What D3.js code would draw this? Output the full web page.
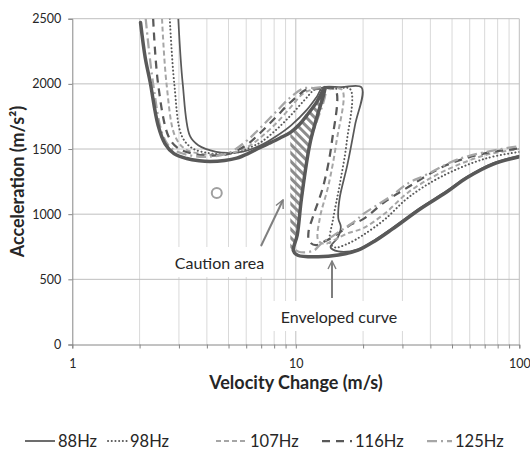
<!DOCTYPE html>
<html>
<head>
<meta charset="utf-8">
<script src="https://cdn.jsdelivr.net/npm/d3@7"></script>
<style>
  body { margin: 0; background: #fff; }
  svg { display: block; }
  text { font-family: Lato, "Open Sans", sans-serif; fill: #262626; }
</style>
</head>
<body>
<svg id="chart" width="530" height="450"></svg>
<script>
// ---- data: velocity change (m/s) vs acceleration (m/s²) ----
const xTickValues = [1, 10, 100];
const yTickValues = [0, 500, 1000, 1500, 2000, 2500];
const seriesNames = ["88Hz", "98Hz", "107Hz", "116Hz", "125Hz"];

const hz88 = [[2.98,2500],[3.12,2000],[3.36,1600],[3.66,1529],[4.4,1478],[5,1470],[5.8,1480],[7,1530],[8.2,1600],[9.5,1680],[11.2,1800],[12.4,1900],[13.2,1972],[16,1974],[19.7,1972],[18.4,1682],[17.0,1376],[15.7,1120],[15.5,967],[15.9,903],[15.4,820],[14.3,748],[15.5,714],[19,730],[22.6,802],[27,892],[36,1048],[47.3,1178],[58.2,1285],[76.5,1392],[100,1450]];
const hz98 = [[2.73,2500],[2.86,2000],[3.09,1600],[3.45,1505],[4.1,1468],[4.8,1462],[5.6,1478],[6.3,1515],[7,1554],[8.2,1650],[9.5,1759],[11,1880],[12.3,1960],[15,1962],[17.5,1960],[16.9,1554],[15.7,1222],[14.7,967],[14.2,780],[15,745],[17,772],[20,840],[25,960],[32,1130],[45,1290],[70,1425],[100,1478]];
const hz107 = [[2.52,2500],[2.64,2000],[2.88,1600],[3.2,1500],[3.8,1462],[4.5,1458],[5.3,1475],[6.2,1525],[7,1592],[8.2,1700],[9.5,1822],[10.7,1920],[11.8,1955],[14,1958],[16.1,1955],[15.2,1554],[14.0,1222],[12.8,967],[12.6,800],[13.5,772],[15,805],[17,852],[20,892],[25,1005],[32,1170],[45,1322],[70,1452],[100,1500]];
const hz116 = [[2.30,2500],[2.42,2000],[2.69,1600],[2.95,1510],[3.5,1462],[4.2,1450],[5,1462],[6,1530],[7,1631],[8.2,1750],[9.5,1861],[11.3,1960],[13,1963],[15,1960],[14.5,1554],[13.3,1222],[12.0,992],[11.4,864],[11.5,790],[12.3,762],[13.5,792],[15.5,852],[17.7,922],[20,962],[25,1094],[32,1210],[47,1375],[70,1467],[100,1505]];
const hz125 = [[2.13,2500],[2.30,2000],[2.55,1600],[2.8,1500],[3.4,1450],[4,1440],[5,1470],[6,1560],[7,1669],[8.2,1790],[9.5,1899],[10.8,1965],[12,1968],[13.5,1965],[11.6,1551],[10.6,1120],[10.15,840],[9.85,740],[10.3,712],[12,720],[13,775],[15,845],[18.5,950],[20,1000],[26.5,1135],[32,1240],[37,1290],[54,1425],[90,1510],[100,1520]];
const seriesData = [hz88, hz98, hz107, hz116, hz125];

const envelope = [[2.02,2470],[2.12,2200],[2.23,2014],[2.42,1682],[2.6,1540],[2.85,1465],[3.25,1427],[3.7,1410],[4.13,1405],[4.8,1412],[5.44,1430],[6.2,1470],[6.9,1510],[7.6,1544],[8.5,1585],[9.47,1628],[10.4,1690],[11.2,1758],[12.4,1860],[13.5,1972],[11.6,1551],[10.6,1120],[10.15,840],[9.75,720],[10.2,685],[12.6,673],[15.5,686],[19,724],[22.6,795],[27,885],[36,1040],[47.3,1170],[58.2,1280],[76.5,1385],[100,1440]];
const cautionArea = [[9.45,1626],[10.4,1690],[11.2,1758],[12.4,1860],[13.5,1972],[11.6,1551],[10.6,1120],[10.15,840],[9.75,720],[9.45,722]];
const markerPoint = [4.43, 1163];

const annotations = [
  { text: "Caution area", box: [167, 247, 105, 30], from: [261, 246], to: [283, 200] },
  { text: "Enveloped curve", box: [272, 301, 134, 30], from: [332, 298], to: [332, 261] }
];

// ---- layout ----
const svg = d3.select("#chart");
const plot = { left: 72.3, right: 519.3, top: 18.7, bottom: 344.5 };

const x = d3.scaleLog().domain([1, 100]).range([plot.left, plot.right]);
const y = d3.scaleLinear().domain([0, 2500]).range([plot.bottom, plot.top]);

const minorX = [];
for (let d = 1; d <= 10; d *= 10) for (let k = 2; k <= 9; k++) minorX.push(d * k);

// gridlines
const grid = svg.append("g");
grid.selectAll(".vminor").data(minorX).join("line")
  .attr("x1", d => x(d)).attr("x2", d => x(d))
  .attr("y1", plot.top).attr("y2", plot.bottom)
  .attr("stroke", "#d9d9d9").attr("stroke-width", 1);
grid.selectAll(".vmajor").data([10, 100]).join("line")
  .attr("x1", d => x(d)).attr("x2", d => x(d))
  .attr("y1", plot.top).attr("y2", plot.bottom)
  .attr("stroke", "#bfbfbf").attr("stroke-width", 1);
grid.selectAll(".h").data(yTickValues.filter(v => v > 0)).join("line")
  .attr("x1", plot.left).attr("x2", plot.right)
  .attr("y1", d => y(d)).attr("y2", d => y(d))
  .attr("stroke", "#bfbfbf").attr("stroke-width", 1);

// axes
const yAxis = svg.append("g").attr("transform", `translate(${plot.left},0)`)
  .call(d3.axisLeft(y).tickValues(yTickValues).tickSize(4).tickPadding(7).tickFormat(d3.format("d")));
const xAxis = svg.append("g").attr("transform", `translate(0,${plot.bottom})`)
  .call(d3.axisBottom(x).tickValues(minorX.concat(xTickValues)).tickSize(4).tickPadding(11)
    .tickFormat(d => xTickValues.includes(d) ? String(d) : ""));
[yAxis, xAxis].forEach(a => {
  a.select(".domain").attr("stroke", "#868686");
  a.selectAll(".tick line").attr("stroke", "#868686");
  a.selectAll(".tick text").style("font-size", "12.5px").attr("fill", "#262626");
});

// hatch pattern for the caution area
const defs = svg.append("defs");
defs.append("pattern").attr("id", "hatch").attr("patternUnits", "userSpaceOnUse")
  .attr("width", 6).attr("height", 6).attr("patternTransform", "rotate(-45)")
  .append("rect").attr("width", 3).attr("height", 6).attr("fill", "#8c8c8c");
defs.append("clipPath").attr("id", "plotClip").append("rect")
  .attr("x", plot.left).attr("y", plot.top)
  .attr("width", plot.right - plot.left).attr("height", plot.bottom - plot.top);
defs.append("marker").attr("id", "arrow").attr("viewBox", "0 0 10 10")
  .attr("refX", 9).attr("refY", 5).attr("markerWidth", 5).attr("markerHeight", 5)
  .attr("orient", "auto-start-reverse").attr("markerUnits", "strokeWidth")
  .append("path").attr("d", "M1,1 L9,5 L1,9").attr("fill", "none")
  .attr("stroke", "#7f7f7f").attr("stroke-width", 1.4);

const layer = svg.append("g").attr("clip-path", "url(#plotClip)");

layer.append("path")
  .attr("d", d3.line().x(d => x(d[0])).y(d => y(d[1]))(cautionArea) + "Z")
  .attr("fill", "url(#hatch)");

const line = d3.line().x(d => x(d[0])).y(d => y(d[1])).curve(d3.curveCatmullRom.alpha(0.5));

const styles = [
  { color: "#595959", width: 1.75, dash: null, cap: "butt" },
  { color: "#595959", width: 2, dash: "0.1 3.6", cap: "round" },
  { color: "#a6a6a6", width: 2, dash: "5 3", cap: "butt" },
  { color: "#595959", width: 2.25, dash: "8 6", cap: "butt" },
  { color: "#a6a6a6", width: 2.25, dash: "10 4 2 4", cap: "butt" }
];

seriesData.forEach((data, i) => {
  layer.append("path").attr("d", line(data))
    .attr("fill", "none").attr("stroke", styles[i].color)
    .attr("stroke-width", styles[i].width)
    .attr("stroke-dasharray", styles[i].dash)
    .attr("stroke-linecap", styles[i].cap)
    .attr("stroke-linejoin", "round");
});

layer.append("path").attr("d", line(envelope))
  .attr("fill", "none").attr("stroke", "#595959")
  .attr("stroke-width", 3.5).attr("stroke-linejoin", "round").attr("stroke-linecap", "round");

// marker point
layer.append("circle").attr("cx", x(markerPoint[0])).attr("cy", y(markerPoint[1]))
  .attr("r", 5).attr("fill", "none").attr("stroke", "#a0a0a0").attr("stroke-width", 2);

// annotation callouts
annotations.forEach(a => {
  svg.append("rect").attr("x", a.box[0]).attr("y", a.box[1])
    .attr("width", a.box[2]).attr("height", a.box[3]).attr("fill", "#fff");
  svg.append("text").attr("x", a.box[0] + a.box[2] / 2).attr("y", a.box[1] + a.box[3] / 2)
    .attr("text-anchor", "middle").attr("dominant-baseline", "central")
    .style("font-size", "16px").text(a.text);
  svg.append("line").attr("x1", a.from[0]).attr("y1", a.from[1])
    .attr("x2", a.to[0]).attr("y2", a.to[1])
    .attr("stroke", "#7f7f7f").attr("stroke-width", 2).attr("marker-end", "url(#arrow)");
});

// axis titles
svg.append("text").attr("x", 296).attr("y", 389)
  .attr("text-anchor", "middle").style("font-size", "18px").style("font-weight", "bold")
  .text("Velocity Change (m/s)");
svg.append("text").attr("transform", `translate(24,${(plot.top + plot.bottom) / 2}) rotate(-90)`)
  .attr("text-anchor", "middle").style("font-size", "18px").style("font-weight", "bold")
  .text("Acceleration (m/s²)");

// legend
const legendX = [25, 108, 216, 322, 427];
const legendTextX = [58, 130, 250, 355, 455];
const legend = svg.append("g").attr("transform", "translate(0,441)");
seriesNames.forEach((name, i) => {
  legend.append("line").attr("x1", legendX[i]).attr("x2", legendTextX[i] - 3)
    .attr("y1", 0).attr("y2", 0)
    .attr("stroke", styles[i].color).attr("stroke-width", styles[i].width)
    .attr("stroke-dasharray", styles[i].dash).attr("stroke-linecap", styles[i].cap);
  legend.append("text").attr("x", legendTextX[i]).attr("y", 0)
    .attr("dominant-baseline", "central").style("font-size", "16.5px").text(name);
});
</script>
</body>
</html>
